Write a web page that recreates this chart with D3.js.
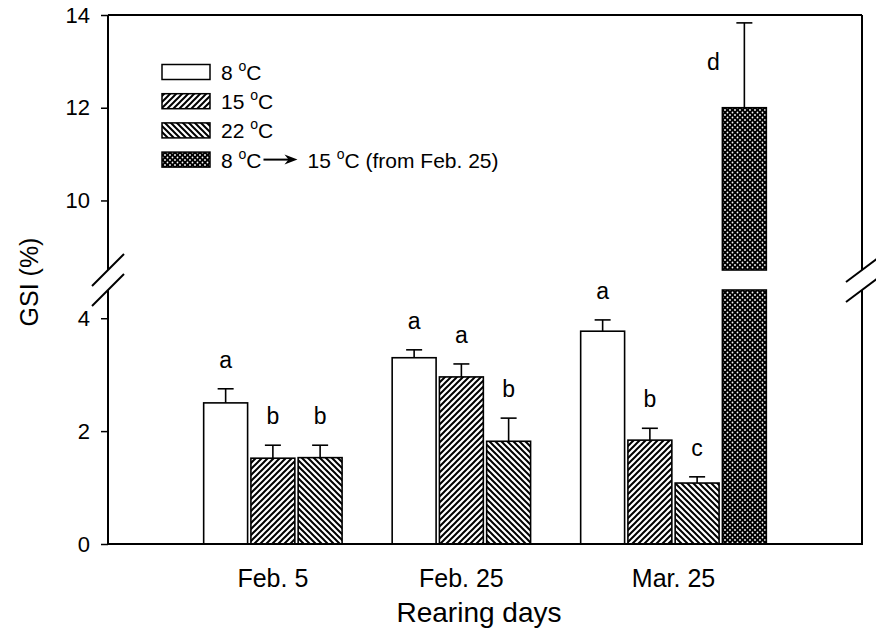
<!DOCTYPE html>
<html>
<head>
<meta charset="utf-8">
<script src="https://cdn.jsdelivr.net/npm/d3@7"></script>
<style>
  body { margin: 0; background: #fff; }
  text { font-family: "Liberation Sans", Arial, sans-serif; fill: #000; }
</style>
</head>
<body>
<div id="chart"></div>
<script>
// Rearing days (groups)
var dates = ['Feb. 5', 'Feb. 25', 'Mar. 25'];
var seriesKeys = ['t8', 't15', 't22', 'shift'];

// GSI (%) means, upper error and significance letters per series
var gsi8 = [2.50, 3.30, 3.77];
var err8 = [0.25, 0.14, 0.20];
var sig8 = ['a', 'a', 'a'];

var gsi15 = [1.52, 2.96, 1.84];
var err15 = [0.23, 0.23, 0.21];
var sig15 = ['b', 'a', 'b'];

var gsi22 = [1.53, 1.82, 1.08];
var err22 = [0.22, 0.41, 0.11];
var sig22 = ['b', 'b', 'c'];

var gsiShift = [null, null, 12.0];
var errShift = [null, null, 1.83];
var sigShift = [null, null, 'd'];

var lowerTicks = [0, 2, 4];
var upperTicks = [10, 12, 14];
var lowerDomain = [0, 4.5];
var upperDomain = [8.5, 14];

var WIDTH = 876, HEIGHT = 644;
var LEFT = 108, RIGHT = 862, TOP = 15, BOTTOM = 544;
var BREAK_LOW = 290, BREAK_HIGH = 270;

var svg = d3.select('#chart').append('svg')
    .attr('width', WIDTH)
    .attr('height', HEIGHT);

var defs = svg.append('defs');

defs.append('pattern')
    .attr('id', 'fwd')
    .attr('patternUnits', 'userSpaceOnUse')
    .attr('width', 6).attr('height', 6)
  .append('path')
    .attr('d', 'M-1,1 L1,-1 M0,6 L6,0 M5,7 L7,5')
    .attr('stroke', '#000').attr('stroke-width', 2);

defs.append('pattern')
    .attr('id', 'back')
    .attr('patternUnits', 'userSpaceOnUse')
    .attr('width', 6).attr('height', 6)
  .append('path')
    .attr('d', 'M-1,5 L1,7 M0,0 L6,6 M5,-1 L7,1')
    .attr('stroke', '#000').attr('stroke-width', 2);

var cross = defs.append('pattern')
    .attr('id', 'cross')
    .attr('patternUnits', 'userSpaceOnUse')
    .attr('width', 5).attr('height', 5);
cross.append('rect').attr('width', 5).attr('height', 5).attr('fill', '#000');
[[0, 0], [5, 0], [0, 5], [5, 5], [2.5, 2.5]].forEach(function(p) {
  cross.append('circle').attr('cx', p[0]).attr('cy', p[1]).attr('r', 0.9).attr('fill', '#fff');
});

var fills = { t8: '#fff', t15: 'url(#fwd)', t22: 'url(#back)', shift: 'url(#cross)' };

// scales
var x0 = d3.scaleBand().domain(dates).range([LEFT, RIGHT]).paddingInner(0).paddingOuter(0.5);
var x1 = d3.scaleBand().domain(seriesKeys).range([0, x0.bandwidth()]).paddingInner(0.07).paddingOuter(0.03);
var yLow = d3.scaleLinear().domain(lowerDomain).range([BOTTOM, BREAK_LOW]);
var yUp = d3.scaleLinear().domain(upperDomain).range([BREAK_HIGH, TOP]);

function yOf(v) { return v <= lowerDomain[1] ? yLow(v) : yUp(v); }

// build rows
var rows = [];
var allSeries = [
  { key: 't8', v: gsi8, e: err8, s: sig8 },
  { key: 't15', v: gsi15, e: err15, s: sig15 },
  { key: 't22', v: gsi22, e: err22, s: sig22 },
  { key: 'shift', v: gsiShift, e: errShift, s: sigShift }
];
dates.forEach(function(d, i) {
  allSeries.forEach(function(sr) {
    if (sr.v[i] == null) return;
    rows.push({ date: d, key: sr.key, value: sr.v[i], err: sr.e[i], sig: sr.s[i] });
  });
});

// bars (split at the axis break)
var barG = svg.append('g');
rows.forEach(function(r) {
  var bx = x0(r.date) + x1(r.key), bw = x1.bandwidth();
  var segs = [];
  if (r.value <= lowerDomain[1]) {
    segs.push([yLow(r.value), BOTTOM]);
  } else {
    segs.push([BREAK_LOW, BOTTOM]);
    segs.push([yUp(r.value), BREAK_HIGH]);
  }
  segs.forEach(function(s) {
    barG.append('rect')
        .attr('x', bx).attr('y', s[0])
        .attr('width', bw).attr('height', s[1] - s[0])
        .attr('fill', fills[r.key])
        .attr('stroke', '#000').attr('stroke-width', 1.6);
  });
  r.cx = bx + bw / 2;
  r.topY = yOf(r.value);
  r.capY = yOf(r.value + r.err);
});

// error bars
var errG = svg.append('g').attr('stroke', '#000').attr('stroke-width', 1.6);
rows.forEach(function(r) {
  errG.append('line').attr('x1', r.cx).attr('x2', r.cx).attr('y1', r.topY).attr('y2', r.capY);
  errG.append('line').attr('x1', r.cx - 8).attr('x2', r.cx + 8).attr('y1', r.capY).attr('y2', r.capY);
});

// letters
svg.append('g').selectAll('text')
    .data(rows)
    .join('text')
    .attr('text-anchor', 'middle')
    .attr('font-size', 23)
    .attr('x', function(r) { return r.capY - 40 < TOP ? r.cx - 31 : r.cx; })
    .attr('y', function(r) { return r.capY - 40 < TOP ? (r.capY + r.topY) / 2 + 5 : r.capY - 21; })
    .text(function(r) { return r.sig; });

// axes
var axG = svg.append('g').attr('stroke', '#000').attr('stroke-width', 2).attr('fill', 'none');
axG.append('line').attr('x1', LEFT).attr('x2', RIGHT).attr('y1', TOP).attr('y2', TOP);
axG.append('line').attr('x1', LEFT - 1).attr('x2', RIGHT + 1).attr('y1', BOTTOM).attr('y2', BOTTOM);
[LEFT, RIGHT].forEach(function(xx) {
  axG.append('line').attr('x1', xx).attr('x2', xx).attr('y1', TOP).attr('y2', BREAK_HIGH);
  axG.append('line').attr('x1', xx).attr('x2', xx).attr('y1', BREAK_LOW).attr('y2', BOTTOM);
});
// break marks
[BREAK_HIGH, BREAK_LOW].forEach(function(by) {
  axG.append('line').attr('x1', LEFT - 16).attr('y1', by + 16).attr('x2', LEFT + 16).attr('y2', by - 16);
  axG.append('line').attr('x1', RIGHT - 16).attr('y1', by + 12).attr('x2', RIGHT + 16).attr('y2', by - 12);
});

function styleAxis(g) {
  g.attr('font-size', 22).attr('font-family', null);
  g.select('.domain').remove();
  g.selectAll('.tick line').attr('stroke', '#000').attr('stroke-width', 1.5);
  g.selectAll('.tick text').attr('fill', '#000');
}
svg.append('g').attr('transform', 'translate(' + LEFT + ',0)')
    .call(d3.axisLeft(yLow).tickValues(lowerTicks).tickFormat(d3.format('d'))
        .tickSize(7).tickPadding(11).tickSizeOuter(0))
    .call(styleAxis);
svg.append('g').attr('transform', 'translate(' + LEFT + ',0)')
    .call(d3.axisLeft(yUp).tickValues(upperTicks).tickFormat(d3.format('d'))
        .tickSize(7).tickPadding(11).tickSizeOuter(0))
    .call(styleAxis);

// x category labels, centred on the bars each date actually has
svg.append('g').selectAll('text')
    .data(dates)
    .join('text')
    .attr('text-anchor', 'middle')
    .attr('font-size', 25)
    .attr('y', 587)
    .attr('x', function(d) {
      var present = rows.filter(function(r) { return r.date === d; });
      var lo = d3.min(present, function(r) { return r.cx; });
      var hi = d3.max(present, function(r) { return r.cx; });
      return (lo + hi) / 2;
    })
    .text(function(d) { return d; });

// axis titles
svg.append('text')
    .attr('text-anchor', 'middle')
    .attr('font-size', 28)
    .attr('x', 479).attr('y', 622)
    .text('Rearing days');
svg.append('text')
    .attr('text-anchor', 'middle')
    .attr('font-size', 25)
    .attr('transform', 'translate(38,282) rotate(-90)')
    .text('GSI (%)');

// legend
var legendRows = [
  { key: 't8', a: '8', b: null },
  { key: 't15', a: '15', b: null },
  { key: 't22', a: '22', b: null },
  { key: 'shift', a: '8', b: '15' }
];
var leg = svg.append('g');
legendRows.forEach(function(lr, i) {
  var cy = 72 + i * 29.2;
  leg.append('rect')
      .attr('x', 162).attr('y', cy - 7.5)
      .attr('width', 48).attr('height', 15)
      .attr('fill', fills[lr.key])
      .attr('stroke', '#000').attr('stroke-width', 1.5);
  function degText(xx, num, tail) {
    var t = leg.append('text').attr('x', xx).attr('y', cy + 8).attr('font-size', 21);
    t.append('tspan').text(num + ' ');
    t.append('tspan').attr('font-size', 14).attr('dy', -9).text('o');
    t.append('tspan').attr('dy', 9).text('C' + (tail || ''));
    return t;
  }
  var t1 = degText(221, lr.a);
  if (lr.b) {
    var end = 221 + t1.node().getComputedTextLength();
    leg.append('line')
        .attr('x1', end + 2).attr('x2', end + 28)
        .attr('y1', cy).attr('y2', cy)
        .attr('stroke', '#000').attr('stroke-width', 2);
    leg.append('path')
        .attr('d', 'M' + (end + 23) + ',' + (cy - 5) + ' L' + (end + 36) + ',' + cy +
                   ' L' + (end + 23) + ',' + (cy + 5) + ' L' + (end + 27) + ',' + cy + ' Z')
        .attr('fill', '#000');
    degText(end + 46, lr.b, ' (from Feb. 25)');
  }
});
</script>
</body>
</html>
